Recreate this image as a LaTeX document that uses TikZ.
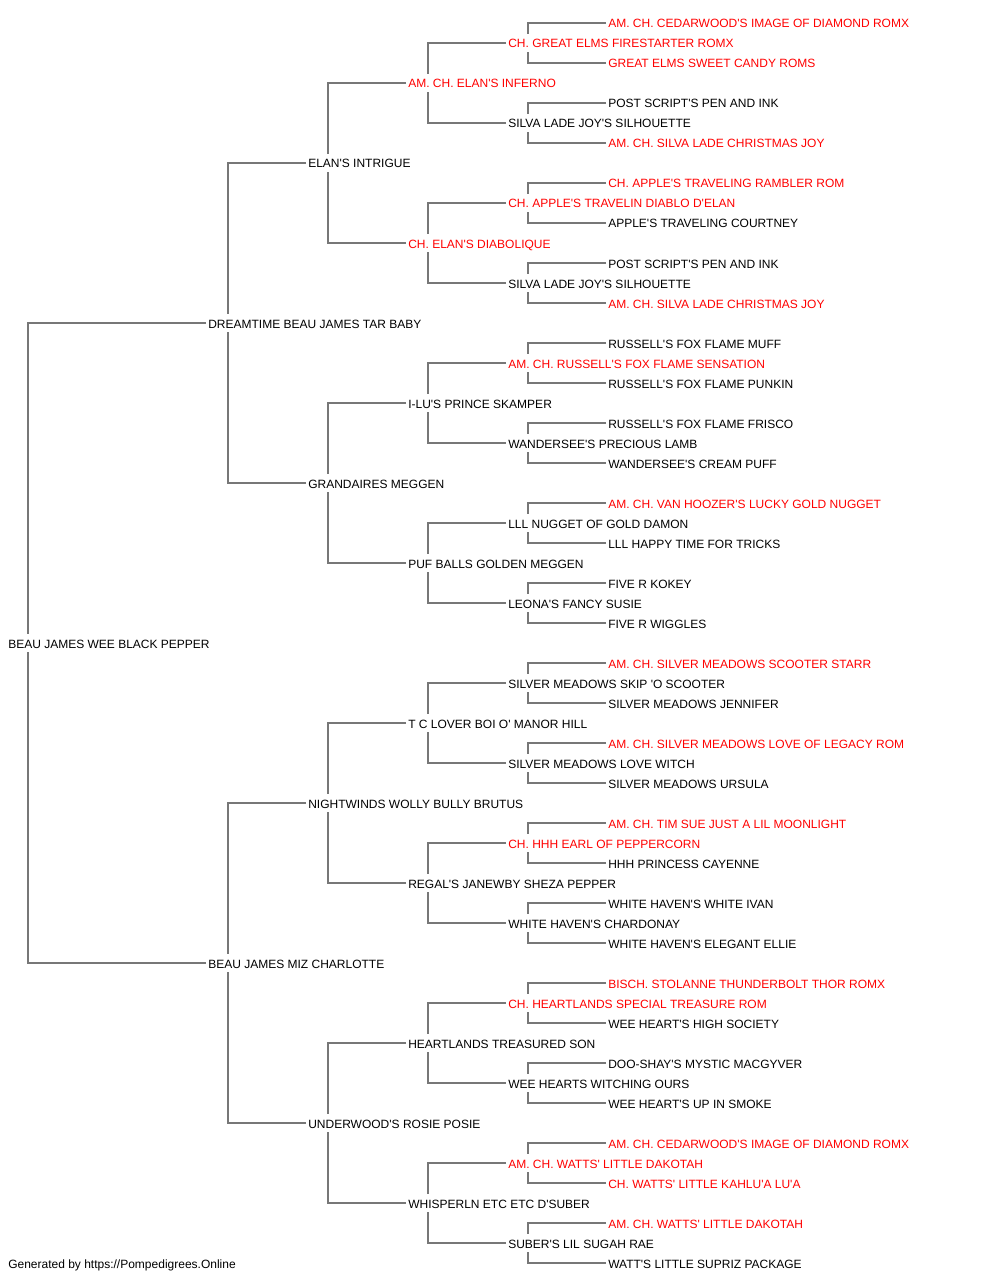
\documentclass[tikz,border=0pt]{standalone}
\usepackage{fontspec}
\setmainfont{Liberation Sans}[Ligatures=TeXOff]
\usepackage{tikz}
\definecolor{namered}{RGB}{255,0,0}
\definecolor{linegray}{RGB}{119,119,119}

\begin{document}
\begin{tikzpicture}[x=0.75pt, y=-0.75pt,
    name_black/.style ={rectangle, draw=none, anchor=west, text=black,
      font=\fontsize{9pt}{11pt}\selectfont,
      text height=9.5pt, text depth=2pt, inner xsep=1.5pt, inner ysep=1pt},
    name_red/.style ={name_black, text=namered},
    line/.style ={draw, linegray, line width=0.9pt}]
    \useasboundingbox (0,0) rectangle (1000,1280);
    % generation 0
    \node [name_black] (p) at (6,643) {BEAU JAMES WEE BLACK PEPPER};
    % generation 1
    \node [name_black] (ps) at (206,323) {DREAMTIME BEAU JAMES TAR BABY};
    \node [name_black] (pd) at (206,963) {BEAU JAMES MIZ CHARLOTTE};
    % generation 2
    \node [name_black] (pss) at (306,163) {ELAN'S INTRIGUE};
    \node [name_black] (psd) at (306,483) {GRANDAIRES MEGGEN};
    \node [name_black] (pds) at (306,803) {NIGHTWINDS WOLLY BULLY BRUTUS};
    \node [name_black] (pdd) at (306,1123) {UNDERWOOD'S ROSIE POSIE};
    % generation 3
    \node [name_red] (psss) at (406,83) {AM. CH. ELAN'S INFERNO};
    \node [name_red] (pssd) at (406,243) {CH. ELAN'S DIABOLIQUE};
    \node [name_black] (psds) at (406,403) {I-LU'S PRINCE SKAMPER};
    \node [name_black] (psdd) at (406,563) {PUF BALLS GOLDEN MEGGEN};
    \node [name_black] (pdss) at (406,723) {T C LOVER BOI O' MANOR HILL};
    \node [name_black] (pdsd) at (406,883) {REGAL'S JANEWBY SHEZA PEPPER};
    \node [name_black] (pdds) at (406,1043) {HEARTLANDS TREASURED SON};
    \node [name_black] (pddd) at (406,1203) {WHISPERLN ETC ETC D'SUBER};
    % generation 4
    \node [name_red] (pssss) at (506,43) {CH. GREAT ELMS FIRESTARTER ROMX};
    \node [name_black] (psssd) at (506,123) {SILVA LADE JOY'S SILHOUETTE};
    \node [name_red] (pssds) at (506,203) {CH. APPLE'S TRAVELIN DIABLO D'ELAN};
    \node [name_black] (pssdd) at (506,283) {SILVA LADE JOY'S SILHOUETTE};
    \node [name_red] (psdss) at (506,363) {AM. CH. RUSSELL'S FOX FLAME SENSATION};
    \node [name_black] (psdsd) at (506,443) {WANDERSEE'S PRECIOUS LAMB};
    \node [name_black] (psdds) at (506,523) {LLL NUGGET OF GOLD DAMON};
    \node [name_black] (psddd) at (506,603) {LEONA'S FANCY SUSIE};
    \node [name_black] (pdsss) at (506,683) {SILVER MEADOWS SKIP 'O SCOOTER};
    \node [name_black] (pdssd) at (506,763) {SILVER MEADOWS LOVE WITCH};
    \node [name_red] (pdsds) at (506,843) {CH. HHH EARL OF PEPPERCORN};
    \node [name_black] (pdsdd) at (506,923) {WHITE HAVEN'S CHARDONAY};
    \node [name_red] (pddss) at (506,1003) {CH. HEARTLANDS SPECIAL TREASURE ROM};
    \node [name_black] (pddsd) at (506,1083) {WEE HEARTS WITCHING OURS};
    \node [name_red] (pddds) at (506,1163) {AM. CH. WATTS' LITTLE DAKOTAH};
    \node [name_black] (pdddd) at (506,1243) {SUBER'S LIL SUGAH RAE};
    % generation 5
    \node [name_red] (psssss) at (606,23) {AM. CH. CEDARWOOD'S IMAGE OF DIAMOND ROMX};
    \node [name_red] (pssssd) at (606,63) {GREAT ELMS SWEET CANDY ROMS};
    \node [name_black] (psssds) at (606,103) {POST SCRIPT'S PEN AND INK};
    \node [name_red] (psssdd) at (606,143) {AM. CH. SILVA LADE CHRISTMAS JOY};
    \node [name_red] (pssdss) at (606,183) {CH. APPLE'S TRAVELING RAMBLER ROM};
    \node [name_black] (pssdsd) at (606,223) {APPLE'S TRAVELING COURTNEY};
    \node [name_black] (pssdds) at (606,263) {POST SCRIPT'S PEN AND INK};
    \node [name_red] (pssddd) at (606,303) {AM. CH. SILVA LADE CHRISTMAS JOY};
    \node [name_black] (psdsss) at (606,343) {RUSSELL'S FOX FLAME MUFF};
    \node [name_black] (psdssd) at (606,383) {RUSSELL'S FOX FLAME PUNKIN};
    \node [name_black] (psdsds) at (606,423) {RUSSELL'S FOX FLAME FRISCO};
    \node [name_black] (psdsdd) at (606,463) {WANDERSEE'S CREAM PUFF};
    \node [name_red] (psddss) at (606,503) {AM. CH. VAN HOOZER'S LUCKY GOLD NUGGET};
    \node [name_black] (psddsd) at (606,543) {LLL HAPPY TIME FOR TRICKS};
    \node [name_black] (psddds) at (606,583) {FIVE R KOKEY};
    \node [name_black] (psdddd) at (606,623) {FIVE R WIGGLES};
    \node [name_red] (pdssss) at (606,663) {AM. CH. SILVER MEADOWS SCOOTER STARR};
    \node [name_black] (pdsssd) at (606,703) {SILVER MEADOWS JENNIFER};
    \node [name_red] (pdssds) at (606,743) {AM. CH. SILVER MEADOWS LOVE OF LEGACY ROM};
    \node [name_black] (pdssdd) at (606,783) {SILVER MEADOWS URSULA};
    \node [name_red] (pdsdss) at (606,823) {AM. CH. TIM SUE JUST A LIL MOONLIGHT};
    \node [name_black] (pdsdsd) at (606,863) {HHH PRINCESS CAYENNE};
    \node [name_black] (pdsdds) at (606,903) {WHITE HAVEN'S WHITE IVAN};
    \node [name_black] (pdsddd) at (606,943) {WHITE HAVEN'S ELEGANT ELLIE};
    \node [name_red] (pddsss) at (606,983) {BISCH. STOLANNE THUNDERBOLT THOR ROMX};
    \node [name_black] (pddssd) at (606,1023) {WEE HEART'S HIGH SOCIETY};
    \node [name_black] (pddsds) at (606,1063) {DOO-SHAY'S MYSTIC MACGYVER};
    \node [name_black] (pddsdd) at (606,1103) {WEE HEART'S UP IN SMOKE};
    \node [name_red] (pdddss) at (606,1143) {AM. CH. CEDARWOOD'S IMAGE OF DIAMOND ROMX};
    \node [name_red] (pdddsd) at (606,1183) {CH. WATTS' LITTLE KAHLU'A LU'A};
    \node [name_red] (pdddds) at (606,1223) {AM. CH. WATTS' LITTLE DAKOTAH};
    \node [name_black] (pddddd) at (606,1263) {WATT'S LITTLE SUPRIZ PACKAGE};
    % footer
    \node [name_black] (footer) at (6,1263) {Generated by https://Pompedigrees.Online};
    % connecting sire and dam to each dog
    \begin{scope}[every path/.style=line]
     % generation 0
     \path (ps.west) -| ([xshift=16.5pt]p.north west); \path (pd.west) -| ([xshift=16.5pt]p.south west);
     % generation 1
     \path (pss.west) -| ([xshift=16.5pt]ps.north west); \path (psd.west) -| ([xshift=16.5pt]ps.south west);
     \path (pds.west) -| ([xshift=16.5pt]pd.north west); \path (pdd.west) -| ([xshift=16.5pt]pd.south west);
     % generation 2
     \path (psss.west) -| ([xshift=16.5pt]pss.north west); \path (pssd.west) -| ([xshift=16.5pt]pss.south west);
     \path (psds.west) -| ([xshift=16.5pt]psd.north west); \path (psdd.west) -| ([xshift=16.5pt]psd.south west);
     \path (pdss.west) -| ([xshift=16.5pt]pds.north west); \path (pdsd.west) -| ([xshift=16.5pt]pds.south west);
     \path (pdds.west) -| ([xshift=16.5pt]pdd.north west); \path (pddd.west) -| ([xshift=16.5pt]pdd.south west);
     % generation 3
     \path (pssss.west) -| ([xshift=16.5pt]psss.north west); \path (psssd.west) -| ([xshift=16.5pt]psss.south west);
     \path (pssds.west) -| ([xshift=16.5pt]pssd.north west); \path (pssdd.west) -| ([xshift=16.5pt]pssd.south west);
     \path (psdss.west) -| ([xshift=16.5pt]psds.north west); \path (psdsd.west) -| ([xshift=16.5pt]psds.south west);
     \path (psdds.west) -| ([xshift=16.5pt]psdd.north west); \path (psddd.west) -| ([xshift=16.5pt]psdd.south west);
     \path (pdsss.west) -| ([xshift=16.5pt]pdss.north west); \path (pdssd.west) -| ([xshift=16.5pt]pdss.south west);
     \path (pdsds.west) -| ([xshift=16.5pt]pdsd.north west); \path (pdsdd.west) -| ([xshift=16.5pt]pdsd.south west);
     \path (pddss.west) -| ([xshift=16.5pt]pdds.north west); \path (pddsd.west) -| ([xshift=16.5pt]pdds.south west);
     \path (pddds.west) -| ([xshift=16.5pt]pddd.north west); \path (pdddd.west) -| ([xshift=16.5pt]pddd.south west);
     % generation 4
     \path (psssss.west) -| ([xshift=16.5pt]pssss.north west); \path (pssssd.west) -| ([xshift=16.5pt]pssss.south west);
     \path (psssds.west) -| ([xshift=16.5pt]psssd.north west); \path (psssdd.west) -| ([xshift=16.5pt]psssd.south west);
     \path (pssdss.west) -| ([xshift=16.5pt]pssds.north west); \path (pssdsd.west) -| ([xshift=16.5pt]pssds.south west);
     \path (pssdds.west) -| ([xshift=16.5pt]pssdd.north west); \path (pssddd.west) -| ([xshift=16.5pt]pssdd.south west);
     \path (psdsss.west) -| ([xshift=16.5pt]psdss.north west); \path (psdssd.west) -| ([xshift=16.5pt]psdss.south west);
     \path (psdsds.west) -| ([xshift=16.5pt]psdsd.north west); \path (psdsdd.west) -| ([xshift=16.5pt]psdsd.south west);
     \path (psddss.west) -| ([xshift=16.5pt]psdds.north west); \path (psddsd.west) -| ([xshift=16.5pt]psdds.south west);
     \path (psddds.west) -| ([xshift=16.5pt]psddd.north west); \path (psdddd.west) -| ([xshift=16.5pt]psddd.south west);
     \path (pdssss.west) -| ([xshift=16.5pt]pdsss.north west); \path (pdsssd.west) -| ([xshift=16.5pt]pdsss.south west);
     \path (pdssds.west) -| ([xshift=16.5pt]pdssd.north west); \path (pdssdd.west) -| ([xshift=16.5pt]pdssd.south west);
     \path (pdsdss.west) -| ([xshift=16.5pt]pdsds.north west); \path (pdsdsd.west) -| ([xshift=16.5pt]pdsds.south west);
     \path (pdsdds.west) -| ([xshift=16.5pt]pdsdd.north west); \path (pdsddd.west) -| ([xshift=16.5pt]pdsdd.south west);
     \path (pddsss.west) -| ([xshift=16.5pt]pddss.north west); \path (pddssd.west) -| ([xshift=16.5pt]pddss.south west);
     \path (pddsds.west) -| ([xshift=16.5pt]pddsd.north west); \path (pddsdd.west) -| ([xshift=16.5pt]pddsd.south west);
     \path (pdddss.west) -| ([xshift=16.5pt]pddds.north west); \path (pdddsd.west) -| ([xshift=16.5pt]pddds.south west);
     \path (pdddds.west) -| ([xshift=16.5pt]pdddd.north west); \path (pddddd.west) -| ([xshift=16.5pt]pdddd.south west);
    \end{scope}
\end{tikzpicture}
\end{document}
